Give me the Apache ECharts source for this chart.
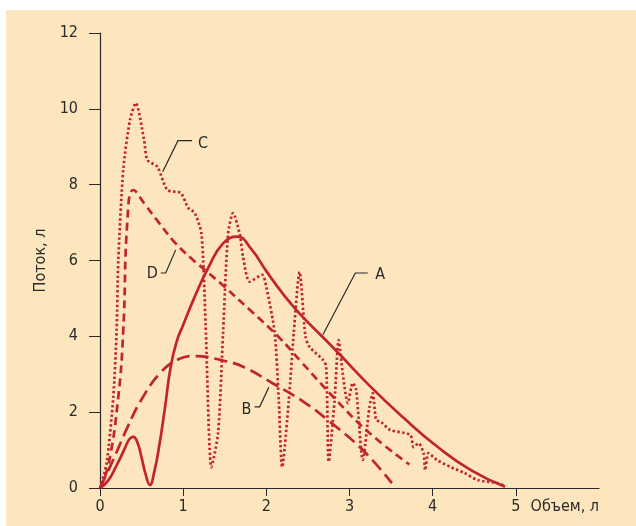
<!DOCTYPE html>
<html lang="ru">
<head>
	<meta charset="UTF-8">
	<title>Поток-объем</title>
	<style>
		body, div {
			margin: 0;
			padding: 0;
		}
		body {
			background: #fff;
		}
		#main {
			position: absolute;
			left: 6px;
			top: 10px;
			width: 630px;
			height: 516px;
			background: #fde5be;
		}
	</style>
</head>
<body>
	<div id="main"></div>

	<script src="https://cdn.jsdelivr.net/npm/echarts@6/dist/echarts.min.js"></script>

	<script>
    // кривая A (сплошная)
    var volA = [0, 0.1, 0.2, 0.3, 0.35, 0.4, 0.45, 0.5, 0.55, 0.6, 0.65, 0.71, 0.78, 0.85, 0.92, 1.0, 1.15, 1.3, 1.48, 1.65, 1.82, 2.0, 2.2, 2.4, 2.84, 3.24, 3.65, 4.05, 4.46, 4.87];
    var flowA = [0, 0.2, 0.6, 1.05, 1.28, 1.35, 1.2, 0.8, 0.35, 0.08, 0.4, 1.08, 2.1, 3.2, 3.85, 4.3, 5.1, 5.8, 6.45, 6.63, 6.3, 5.72, 5.12, 4.6, 3.62, 2.7, 1.85, 1.1, 0.47, 0.03];

    // кривая B (длинный пунктир)
    var volB = [0, 0.16, 0.33, 0.49, 0.73, 0.95, 1.13, 1.5, 1.74, 2.07, 2.43, 2.74, 3.16, 3.51];
    var flowB = [0, 0.75, 1.6, 2.3, 3.05, 3.4, 3.48, 3.35, 3.18, 2.77, 2.3, 1.79, 1.0, 0.13];

    // кривая C (точки)
    var volC = [0, 0.08, 0.16, 0.2, 0.22, 0.28, 0.36, 0.43, 0.53, 0.57, 0.69, 0.81, 0.97, 1.06, 1.14, 1.22, 1.27, 1.34, 1.42, 1.48, 1.54, 1.6, 1.68, 1.72, 1.8, 1.95, 2.0, 2.1, 2.15, 2.19, 2.27, 2.33, 2.4, 2.47, 2.52, 2.68, 2.72, 2.75, 2.82, 2.87, 2.92, 2.98, 3.04, 3.08, 3.16, 3.24, 3.28, 3.32, 3.38, 3.49, 3.73, 3.77, 3.83, 3.89, 3.91, 3.95, 4.05, 4.22, 4.38, 4.54, 4.78, 4.87];
    var flowC = [0, 0.66, 2.4, 4.17, 6.0, 8.4, 9.7, 10.15, 9.18, 8.65, 8.47, 7.86, 7.78, 7.39, 7.25, 6.7, 4.3, 0.55, 1.45, 4.1, 6.7, 7.25, 6.7, 6.1, 5.44, 5.62, 5.3, 4.1, 2.3, 0.55, 2.3, 4.1, 5.7, 4.0, 3.72, 3.38, 3.2, 0.69, 2.3, 3.9, 3.0, 2.24, 2.77, 2.59, 0.74, 2.14, 2.5, 1.8, 1.74, 1.53, 1.4, 1.08, 1.18, 0.92, 0.47, 0.92, 0.74, 0.55, 0.4, 0.21, 0.13, 0.05];

    // кривая D (короткий пунктир)
    var volD = [0, 0.1, 0.22, 0.28, 0.33, 0.4, 0.55, 0.69, 0.89, 1.1, 1.3, 1.5, 1.8, 2.15, 2.43, 2.84, 3.24, 3.72];
    var flowD = [0, 0.6, 2.4, 4.17, 7.07, 7.86, 7.45, 7.05, 6.5, 6.05, 5.68, 5.3, 4.7, 3.98, 3.3, 2.32, 1.45, 0.62];

    var xTicks = [0, 1, 2, 3, 4, 5];
    var yTicks = [0, 2, 4, 6, 8, 10, 12];

    function zip(xs, ys) {
        return xs.map(function (x, i) { return [x, ys[i]]; });
    }

    var red = '#c0252f';
    var ink = '#2a2a2a';
    var font = "'Liberation Sans Narrow', 'DejaVu Sans Condensed', sans-serif";

    function curve(name, xs, ys, dash, smooth) {
        return {
            name: name,
            type: 'line',
            data: zip(xs, ys),
            smooth: smooth,
            showSymbol: false,
            lineStyle: { color: red, width: 2.7, type: dash, cap: 'butt' }
        };
    }

    var myEcharts = echarts.init(document.getElementById('main'));

    myEcharts.setOption({
        animation: false,
        grid: { left: 94, right: 37, top: 23, bottom: 38 },
        xAxis: {
            type: 'value',
            min: 0,
            max: 6,
            interval: 1,
            name: 'Объем, л',
            nameLocation: 'end',
            nameGap: 0,
            nameTextStyle: {
                color: ink, fontFamily: font, fontSize: 16,
                align: 'right', verticalAlign: 'top', padding: [11, 0, 0, 0]
            },
            splitLine: { show: false },
            axisLine: { lineStyle: { color: ink, width: 1.2 } },
            axisTick: { show: true, length: 8, lineStyle: { color: ink }, customValues: xTicks },
            axisLabel: { color: ink, fontFamily: font, fontSize: 16, margin: 11, customValues: xTicks }
        },
        yAxis: {
            type: 'value',
            min: 0,
            max: 12,
            interval: 2,
            name: 'Поток, л',
            nameLocation: 'middle',
            nameGap: 48,
            nameTextStyle: { color: ink, fontFamily: font, fontSize: 16 },
            splitLine: { show: false },
            axisLine: { show: true, lineStyle: { color: ink, width: 1.2 } },
            axisTick: { show: true, length: 11, lineStyle: { color: ink }, customValues: yTicks },
            axisLabel: { color: ink, fontFamily: font, fontSize: 16, margin: 22, customValues: yTicks }
        },
        series: [
            curve('A', volA, flowA, 'solid', 0.5),
            curve('B', volB, flowB, [13, 6], 0.45),
            curve('C', volC, flowC, [2.4, 2.4], 0.25),
            curve('D', volD, flowD, [8, 5], 0.45)
        ]
    });

    // выноски с подписями кривых (в координатах данных)
    var callouts = [
        { text: 'C', line: [[0.754, 8.34], [0.937, 9.16], [1.107, 9.16]], at: [1.24, 9.08] },
        { text: 'D', line: [[0.73, 5.67], [0.79, 5.67], [0.91, 6.28]], at: [0.63, 5.64] },
        { text: 'A', line: [[2.68, 4.04], [3.07, 5.67], [3.22, 5.67]], at: [3.37, 5.62] },
        { text: 'B', line: [[1.86, 2.14], [1.92, 2.14], [2.03, 2.66]], at: [1.76, 2.06] }
    ];

    var graphics = [];
    callouts.forEach(function (c) {
        var pts = c.line.map(function (p) { return myEcharts.convertToPixel({ gridIndex: 0 }, p); });
        var pos = myEcharts.convertToPixel({ gridIndex: 0 }, c.at);
        graphics.push({
            type: 'polyline',
            shape: { points: pts },
            style: { stroke: ink, lineWidth: 1.2, fill: null }
        });
        graphics.push({
            type: 'text',
            x: pos[0],
            y: pos[1],
            style: {
                text: c.text, fill: ink, font: '16px ' + font,
                align: 'center', verticalAlign: 'middle'
            }
        });
    });
    myEcharts.setOption({ graphic: graphics });
	</script>

</body>
</html>
